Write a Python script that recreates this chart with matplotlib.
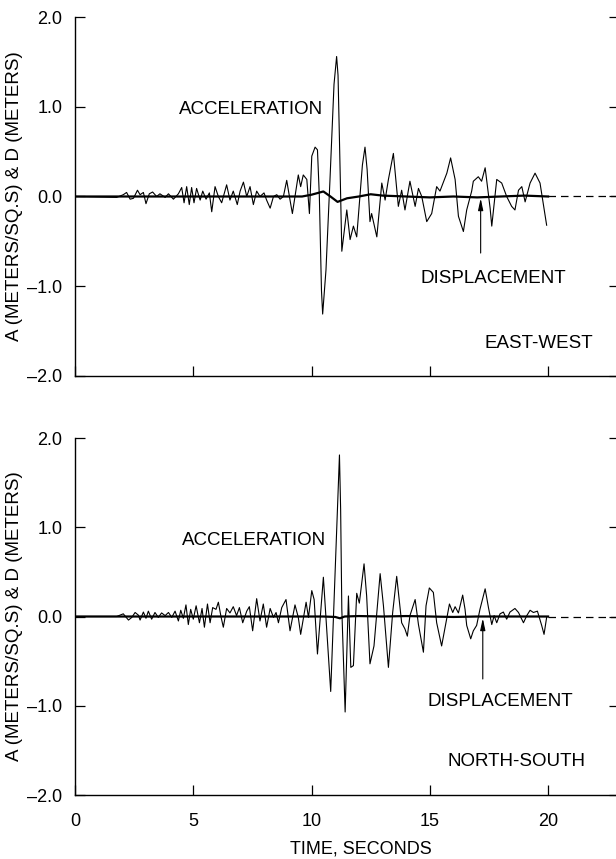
import numpy as np
import matplotlib.pyplot as plt

plt.rcParams['font.family'] = ['Liberation Sans', 'DejaVu Sans']

# East-west component: time (s) and acceleration (m/s^2)
ew_time = [0.0, 1.76, 2.04, 2.18, 2.33, 2.47, 2.64, 2.75, 2.89, 3.00, 3.14, 3.28, 3.45,
           3.59, 3.81, 3.95, 4.16, 4.37, 4.51, 4.61, 4.72, 4.83, 4.93, 5.03, 5.14, 5.29,
           5.40, 5.54, 5.68, 5.78, 5.92, 6.06, 6.20, 6.41, 6.55, 6.69, 6.86, 6.98, 7.12,
           7.26, 7.40, 7.54, 7.68, 7.82, 7.99, 8.10, 8.25, 8.39, 8.53, 8.67, 8.81, 8.95,
           9.09, 9.19, 9.30, 9.44, 9.54, 9.65, 9.80, 9.91, 10.01, 10.15, 10.25, 10.33,
           10.42, 10.47, 10.53, 10.61, 10.78, 10.95, 11.06, 11.12, 11.18, 11.28, 11.49,
           11.63, 11.77, 11.91, 12.15, 12.26, 12.35, 12.47, 12.54, 12.76, 12.97, 13.11,
           13.25, 13.46, 13.67, 13.81, 13.95, 14.16, 14.38, 14.52, 14.66, 14.87, 15.08,
           15.29, 15.43, 15.72, 15.88, 16.07, 16.21, 16.42, 16.56, 16.77, 16.84, 17.05,
           17.19, 17.34, 17.55, 17.62, 17.83, 18.04, 18.25, 18.46, 18.60, 18.75, 18.89,
           19.03, 19.24, 19.45, 19.66, 19.94]
ew_acc = [0.0, -0.01, 0.02, 0.045, -0.03, -0.02, 0.07, 0.02, 0.045, -0.08, 0.03, 0.05, 0.0,
          0.03, -0.01, 0.03, -0.03, 0.03, 0.10, -0.07, 0.11, -0.09, 0.10, -0.07, 0.09, -0.04,
          0.06, -0.03, 0.04, -0.17, 0.11, 0.0, -0.07, 0.13, -0.04, 0.06, -0.09, 0.06, 0.16,
          0.0, 0.11, -0.09, 0.06, 0.0, 0.04, -0.04, -0.13, 0.0, 0.02, -0.03, 0.0, 0.18,
          -0.04, -0.19, 0.0, 0.24, 0.11, 0.24, 0.19, -0.19, 0.45, 0.55, 0.52, 0.0,
          -1.05, -1.31, -1.1, -0.82, 0.19, 1.25, 1.56, 1.35, 0.63, -0.61, -0.15,
          -0.48, -0.33, -0.45, 0.35, 0.55, 0.3, -0.28, -0.19, -0.45, 0.15, -0.04,
          0.19, 0.48, -0.11, 0.07, -0.15, 0.17, -0.11, 0.09, 0.0, -0.28, -0.19,
          0.11, 0.06, 0.26, 0.43, 0.19, -0.22, -0.39, -0.15, 0.06, 0.17, 0.22,
          0.17, 0.32, -0.13, -0.33, 0.19, 0.15, 0.0, -0.11, -0.15, 0.07, 0.11,
          -0.06, 0.15, 0.26, 0.15, -0.32]

# East-west displacement (m)
ew_disp_time = [0.0, 9.6, 10.0, 10.5, 10.8, 11.1, 11.5, 12.0, 12.5, 13.0, 14.0, 15.0,
                16.0, 17.0, 18.0, 19.0, 20.0]
ew_disp = [0.0, 0.0, 0.02, 0.056, 0.0, -0.06, -0.02, 0.0, 0.025, 0.01, 0.0, -0.01,
           0.0, -0.01, 0.0, 0.01, 0.0]

# North-south component: time (s) and acceleration (m/s^2)
ns_time = [0.0, 1.76, 2.04, 2.26, 2.40, 2.54, 2.68, 2.75, 2.89, 3.00, 3.10, 3.24, 3.38,
           3.52, 3.66, 3.81, 3.95, 4.09, 4.23, 4.37, 4.47, 4.58, 4.69, 4.79, 4.89, 5.00,
           5.12, 5.26, 5.37, 5.47, 5.60, 5.71, 5.82, 5.96, 6.06, 6.17, 6.27, 6.41, 6.55,
           6.69, 6.83, 6.95, 7.09, 7.26, 7.37, 7.51, 7.68, 7.82, 7.96, 8.10, 8.25, 8.39,
           8.50, 8.60, 8.74, 8.92, 9.09, 9.30, 9.44, 9.54, 9.77, 9.87, 10.01, 10.11,
           10.25, 10.50, 10.81, 11.12, 11.18, 11.23, 11.28, 11.42, 11.56, 11.66, 11.77,
           11.91, 12.02, 12.22, 12.33, 12.47, 12.64, 12.90, 13.04, 13.25, 13.43, 13.60,
           13.81, 13.95, 14.05, 14.16, 14.38, 14.52, 14.73, 14.84, 14.98, 15.15, 15.29,
           15.50, 15.71, 15.83, 15.97, 16.07, 16.21, 16.39, 16.49, 16.56, 16.73, 16.84,
           16.98, 17.12, 17.34, 17.48, 17.62, 17.72, 17.83, 17.97, 18.11, 18.25, 18.39,
           18.60, 18.75, 18.96, 19.10, 19.24, 19.38, 19.55, 19.73, 19.83, 19.94]
ns_acc = [0.0, 0.0, 0.03, -0.04, -0.01, 0.045, 0.015, -0.04, 0.05, -0.02, 0.06, -0.03, 0.045,
          -0.01, 0.04, 0.01, 0.045, -0.01, 0.06, -0.05, 0.07, -0.02, 0.13, -0.09, 0.08, -0.03,
          0.12, -0.07, 0.09, -0.12, 0.14, -0.07, 0.10, 0.08, 0.16, 0.0, -0.12, 0.09, 0.04,
          0.11, 0.01, 0.10, -0.07, 0.06, 0.11, -0.16, 0.20, -0.05, 0.14, -0.12, 0.09, -0.01,
          0.045, -0.07, 0.10, 0.19, -0.16, 0.13, -0.01, -0.20, 0.16, -0.01, 0.29, 0.19,
          -0.42, 0.44, -0.84, 1.4, 1.81, 1.2, 0.08, -1.07, 0.23, -0.57, -0.55,
          0.26, 0.15, 0.59, 0.23, -0.53, -0.33, 0.48, 0.12, -0.57, 0.045, 0.45,
          -0.07, -0.14, -0.22, 0.01, 0.19, -0.09, -0.40, 0.12, 0.32, 0.27, -0.07,
          -0.33, -0.03, 0.14, 0.045, 0.11, 0.04, 0.24, 0.08, -0.10, -0.25, -0.16,
          -0.10, 0.08, 0.31, 0.10, -0.09, 0.01, -0.07, 0.03, 0.05, -0.03, 0.05,
          0.09, 0.045, -0.07, 0.01, 0.07, 0.045, 0.06, -0.10, -0.20, -0.01]

# North-south displacement (m)
ns_disp_time = [0.0, 10.5, 11.0, 11.2, 11.4, 12.0, 13.0, 14.0, 15.0, 16.0, 17.0, 18.0,
                19.0, 20.0]
ns_disp = [0.0, 0.0, -0.005, -0.02, 0.0, 0.005, 0.0, 0.005, 0.0, -0.005, 0.0, 0.0,
           0.0, 0.0]

yticks = [-2.0, -1.0, 0.0, 1.0, 2.0]
ytick_labels = ['\u20132.0', '\u20131.0', '0.0', '1.0', '2.0']
xticks = [0, 5, 10, 15, 20]

panels = [
    dict(t=ew_time, a=ew_acc, dt=ew_disp_time, d=ew_disp, name='EAST-WEST',
         acc_xy=(7.43, 0.97), disp_xy=(17.7, -0.91), arrow_x=17.15, arrow_from=-0.63,
         name_xy=(19.6, -1.64)),
    dict(t=ns_time, a=ns_acc, dt=ns_disp_time, d=ns_disp, name='NORTH-SOUTH',
         acc_xy=(7.57, 0.855), disp_xy=(18.0, -0.95), arrow_x=17.24, arrow_from=-0.70,
         name_xy=(18.67, -1.63)),
]

fig = plt.figure(figsize=(6.16, 8.59), dpi=100)
rects = [[0.1218, 0.5623, 0.8831, 0.4179], [0.1218, 0.0745, 0.8831, 0.4156]]

for i, (p, rect) in enumerate(zip(panels, rects)):
    ax = fig.add_axes(rect)
    ax.plot(p['t'], p['a'], color='black', lw=0.8)
    ax.plot(p['dt'], p['d'], color='black', lw=1.6)
    ax.plot([20, 25], [0, 0], color='black', lw=0.9, ls=(0, (6, 4)))

    ax.set_xlim(0, 23)
    ax.set_ylim(-2.0, 2.0)
    ax.set_yticks(yticks)
    ax.set_yticklabels(ytick_labels)
    ax.set_xticks(xticks)
    if i == 0:
        ax.set_xticklabels([])
    else:
        ax.set_xlabel('TIME, SECONDS', fontsize=13)
        ax.xaxis.set_label_coords(12.1 / 23, -0.128)
    ax.spines['top'].set_visible(False)
    for s in ax.spines.values():
        s.set_linewidth(1.0)
    ax.tick_params(direction='in', length=7, width=0.9, labelsize=13, pad=9,
                   right=True)
    ax.tick_params(axis='x', pad=13)
    ax.set_ylabel('A (METERS/SQ.S) & D (METERS)', fontsize=13.5, labelpad=3)

    ax.text(*p['acc_xy'], 'ACCELERATION', fontsize=13.5, ha='center', va='center')
    ax.text(*p['disp_xy'], 'DISPLACEMENT', fontsize=13.5, ha='center', va='center')
    ax.text(*p['name_xy'], p['name'], fontsize=13.5, ha='center', va='center')
    ax.annotate('', xy=(p['arrow_x'], -0.02), xytext=(p['arrow_x'], p['arrow_from']),
                arrowprops=dict(arrowstyle='-|>,head_length=0.7,head_width=0.15',
                                color='black', lw=0.8, shrinkA=0, shrinkB=0))

fig.savefig('out.png', dpi=100)
